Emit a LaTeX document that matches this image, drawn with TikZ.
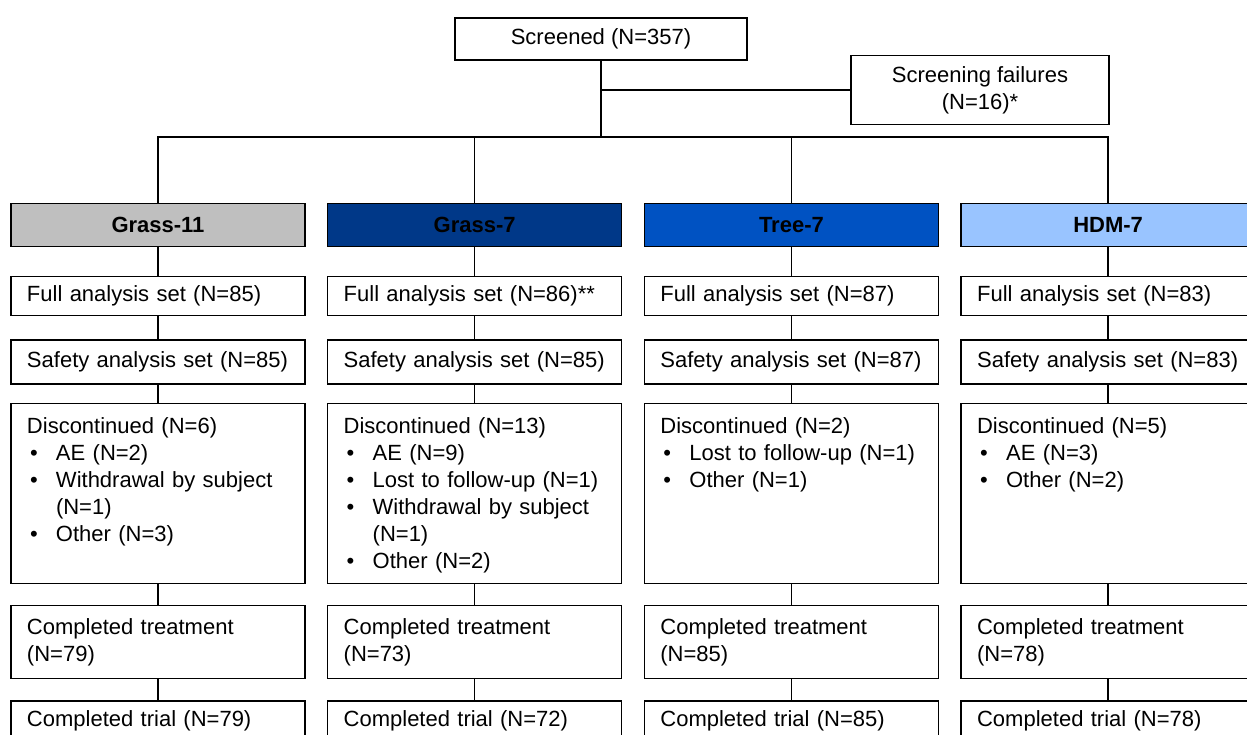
\documentclass[tikz,border=0pt]{standalone}
\usepackage{fontspec}
\setmainfont{Liberation Sans}
\usepackage{tikz}
\usetikzlibrary{positioning}

\definecolor{grassgray}{RGB}{191,191,191}
\definecolor{grassnavy}{RGB}{0,56,136}
\definecolor{treeblue}{RGB}{0,82,194}
\definecolor{hdmblue}{RGB}{153,196,255}

\newcommand{\bul}[1]{\hspace*{3pt}\makebox[26pt][l]{\textbullet}#1}
\newcommand{\cont}[1]{\hspace*{29pt}#1}

\begin{document}
\begin{tikzpicture}[x=1pt,y=-1pt,line width=1.3pt,
   every node/.style={font=\fontsize{22}{27}\selectfont},
   top/.style={draw,minimum width=292pt,minimum height=42pt,align=center},
   arm/.style={draw,minimum width=294pt,minimum height=43pt,font=\fontsize{22}{27}\selectfont\bfseries},
   cell/.style={draw,minimum width=294pt,minimum height=39pt,inner xsep=16pt,text width=262pt,align=left},
   tall/.style={cell,text height=16pt,text depth=136pt,inner ysep=14pt},
   last/.style={cell,text height=16pt,text depth=24pt,inner ysep=9pt},
   node distance=21pt]
   \useasboundingbox (0,0) rectangle (1247,735);
   \clip (0,0) rectangle (1247,735);

   \node[top] (scr) at (601,39) {Screened (N=357)};
   \node[top,minimum width=258pt,minimum height=69pt] (fail) at (980,90) {Screening failures\\(N=16)*};

   % arms
   \node[arm,fill=grassgray] (g11) at (158,225) {Grass-11};
   \node[arm,fill=grassnavy,right=21.4pt of g11] (g7) {Grass-7};
   \node[arm,fill=treeblue,right=21.4pt of g7] (t7) {Tree-7};
   \node[arm,fill=hdmblue,right=21.4pt of t7] (hdm) {HDM-7};

   % Grass-11
   \node[cell,below=29pt of g11] (g11fas) {Full analysis set (N=85)};
   \node[cell,minimum height=44pt,below=23pt of g11fas] (g11saf) {Safety analysis set (N=85)};
   \node[tall,below=18pt of g11saf] (g11dis) {Discontinued (N=6)\\\bul{AE (N=2)}\\\bul{Withdrawal by subject}\\\cont{(N=1)}\\\bul{Other (N=3)}};
   \node[cell,minimum height=73pt,below=of g11dis] (g11ct) {Completed treatment\\(N=79)};
   \node[last,below=of g11ct] (g11tr) {Completed trial (N=79)};

   % Grass-7
   \node[cell,below=29pt of g7] (g7fas) {Full analysis set (N=86)**};
   \node[cell,minimum height=44pt,below=23pt of g7fas] (g7saf) {Safety analysis set (N=85)};
   \node[tall,below=18pt of g7saf] (g7dis) {Discontinued (N=13)\\\bul{AE (N=9)}\\\bul{Lost to follow-up (N=1)}\\\bul{Withdrawal by subject}\\\cont{(N=1)}\\\bul{Other (N=2)}};
   \node[cell,minimum height=73pt,below=of g7dis] (g7ct) {Completed treatment\\(N=73)};
   \node[last,below=of g7ct] (g7tr) {Completed trial (N=72)};

   % Tree-7
   \node[cell,below=29pt of t7] (t7fas) {Full analysis set (N=87)};
   \node[cell,minimum height=44pt,below=23pt of t7fas] (t7saf) {Safety analysis set (N=87)};
   \node[tall,below=18pt of t7saf] (t7dis) {Discontinued (N=2)\\\bul{Lost to follow-up (N=1)}\\\bul{Other (N=1)}};
   \node[cell,minimum height=73pt,below=of t7dis] (t7ct) {Completed treatment\\(N=85)};
   \node[last,below=of t7ct] (t7tr) {Completed trial (N=85)};

   % HDM-7
   \node[cell,below=29pt of hdm] (hdmfas) {Full analysis set (N=83)};
   \node[cell,minimum height=44pt,below=23pt of hdmfas] (hdmsaf) {Safety analysis set (N=83)};
   \node[tall,below=18pt of hdmsaf] (hdmdis) {Discontinued (N=5)\\\bul{AE (N=3)}\\\bul{Other (N=2)}};
   \node[cell,minimum height=73pt,below=of hdmdis] (hdmct) {Completed treatment\\(N=78)};
   \node[last,below=of hdmct] (hdmtr) {Completed trial (N=78)};

   % connectors
   \coordinate (fork) at (scr.south |- fail.west);
   \coordinate (split) at (601,137);
   \draw (scr) -- (split);
   \draw (fork) -- (fail);
   \draw (g11) |- (split) -| (hdm);
   \draw (g7) -- (g7 |- split);
   \draw (t7) -- (t7 |- split);
   \foreach \c in {g11,g7,t7,hdm}
      \draw (\c) -- (\c fas) -- (\c saf) -- (\c dis) -- (\c ct) -- (\c tr);
\end{tikzpicture}
\end{document}
